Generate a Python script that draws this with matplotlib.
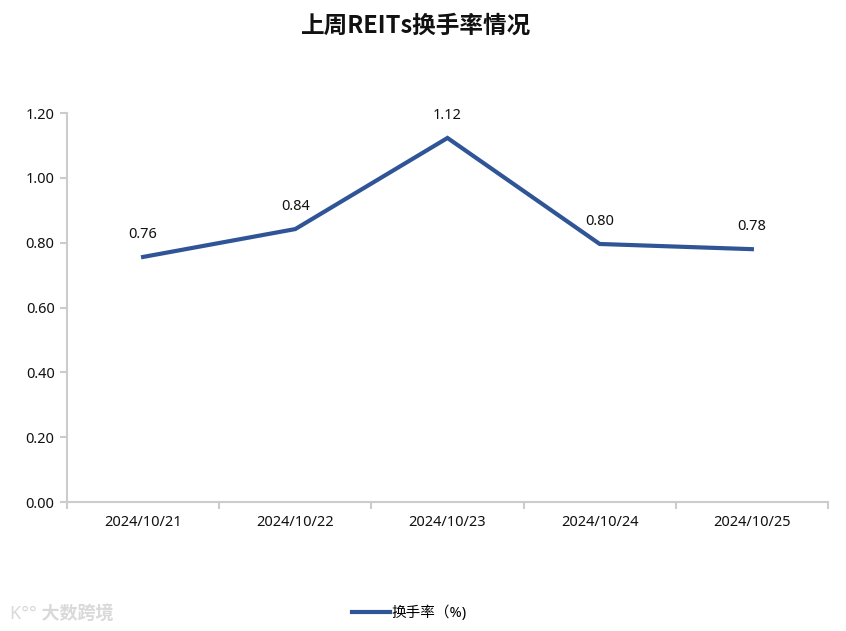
import matplotlib
matplotlib.use("Agg")
import matplotlib.pyplot as plt
from matplotlib.lines import Line2D

plt.rcParams['font.family'] = ['Noto Sans', 'Noto Sans CJK SC', 'DejaVu Sans']

dates = ['2024/10/21', '2024/10/22', '2024/10/23', '2024/10/24', '2024/10/25']
turnover = [0.756, 0.842, 1.123, 0.796, 0.780]
yticks = [0.0, 0.2, 0.4, 0.6, 0.8, 1.0, 1.2]

line_color = '#2f5597'
axis_color = '#cccccc'

fig = plt.figure(figsize=(8.46, 6.31), dpi=100)
ax = fig.add_axes([0.0792, 0.2044, 0.8995, 0.6165])

x = list(range(len(dates)))
ax.plot(x, turnover, color=line_color, linewidth=3, solid_joinstyle='miter')
for xi, v in zip(x, turnover):
    ax.annotate(f'{v:.2f}', (xi, v), xytext=(0, 11), textcoords='offset points',
                ha='center', va='bottom', fontsize=10.5, color='#111111')

ax.set_xlim(-0.5, len(dates) - 0.5)
ax.set_ylim(0, 1.2)
ax.set_yticks(yticks)
ax.set_yticklabels([f'{t:.2f}' for t in yticks], fontsize=10.5, color='#111111')

# categories centred in bands, ticks on band edges
ax.set_xticks([i - 0.5 for i in range(len(dates) + 1)])
ax.set_xticklabels([])
ax.set_xticks(x, minor=True)
ax.set_xticklabels(dates, minor=True, fontsize=10.5, color='#111111')
ax.tick_params(axis='x', which='minor', length=0, pad=9)
ax.tick_params(axis='x', which='major', length=5, color=axis_color, width=1.5)
ax.tick_params(axis='y', length=5, color=axis_color, width=1.5, pad=4)

for side in ['top', 'right']:
    ax.spines[side].set_visible(False)
for side in ['left', 'bottom']:
    ax.spines[side].set_color(axis_color)
    ax.spines[side].set_linewidth(1.5)

fig.text(0.492, 0.96, '上周REITs换手率情况', ha='center', va='center',
         fontsize=17, fontweight='bold', color='#111111',
         family=['Noto Sans CJK SC', 'DejaVu Sans'])

handle = Line2D([], [], color=line_color, linewidth=3)
fig.legend([handle], ['换手率（%)'], loc='center', bbox_to_anchor=(0.484, 0.028),
           frameon=False, fontsize=10.5, handlelength=2.6, handletextpad=0.1)

fig.text(0.012, 0.028, 'K°° 大数跨境', ha='left', va='center', fontsize=13,
         color='#d9d9d9', fontweight='bold')

fig.savefig('out.png', dpi=100)
